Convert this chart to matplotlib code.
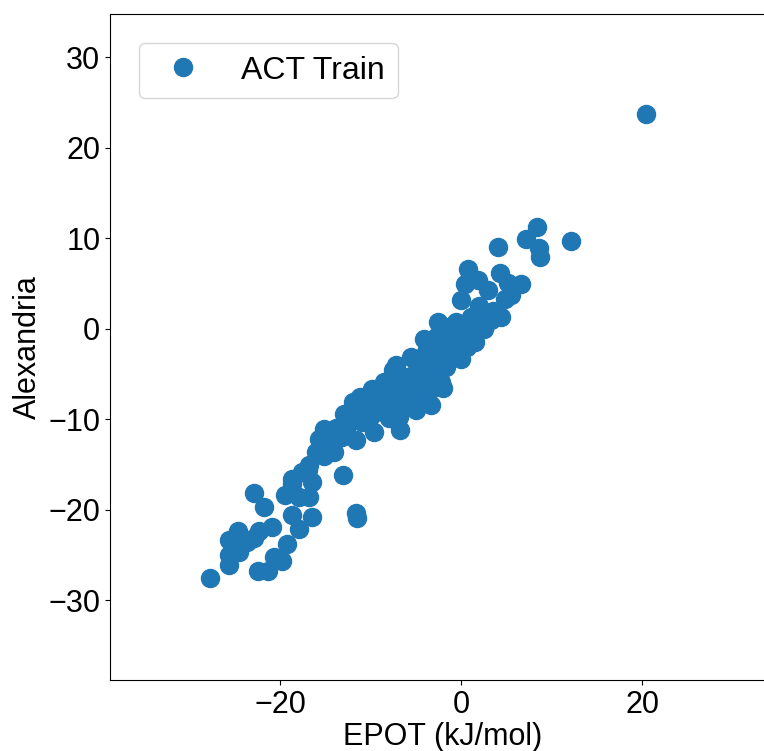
import matplotlib
matplotlib.use("Agg")
import matplotlib.pyplot as plt

plt.rcParams['font.family'] = ['Liberation Sans', 'DejaVu Sans']

# EPOT (kJ/mol) vs Alexandria
epot = [
    20.4, 8.4, 7.2, 8.6, 8.7, 12.2, 4.1, 0.8, 0.4, 1.9,
    4.3, 5.2, 6.6, 3.0, 4.8, 4.4, 0.0, 2.0, 3.5, 5.5,
    1.2, -2.5, 0.5, 2.5, 1.5,
    -1.7, -0.6, 1.1, 2.2, 3.3, 1.7, 0.6, 0.0, -1.1, -2.2,
    -3.3, -4.1, -3.3, -1.7, -4.4, -5.5, -7.2, -8.5, -6.6, -5.0,
    -3.3, -2.2, -4.4, -3.3, -6.1, -6.9, -6.8, -7.7, -9.9, -11.2,
    -11.9, -12.9, -9.6, -9.4, -11.0, -11.6, -8.8, -15.2, -15.7, -13.8,
    -13.2, -15.1, -16.8, -18.7, -13.0, -16.9, -16.5, -18.7, -19.5, -17.9,
    -16.8, -18.7, -16.5, -15.2, -14.1, -22.9, -21.8, -17.9, -19.2, -20.7,
    -19.8, -22.4, -21.3, -20.9, -22.3, -22.9, -23.7, -24.5, -24.6, -25.6,
    -25.7, -25.6, -27.7, -11.6, -11.5,
    -6.1, -5.0, -3.9, -2.8, -1.3, -0.6, 0.6, 1.1, -0.9, -2.2,
    -3.1, -4.4, -5.5, -5.3, -7.2, -8.3, -7.7, -10.5, -12.1, -10.1,
    -8.3, -14.3, -12.7, -16.0, -17.6,
    -6.5, -5.0, -8.0, -4.0, -2.0, -7.5, -9.0, -10.5,
]
alexandria = [
    23.8, 11.3, 9.9, 8.9, 7.9, 9.7, 9.1, 6.6, 5.0, 5.4,
    6.2, 5.1, 5.0, 4.3, 3.3, 1.3, 3.2, 2.5, 2.0, 3.8,
    1.0, 0.8, -0.5, 0.0, -1.5,
    -0.3, 0.8, 1.3, 0.8, 1.0, -0.3, -2.0, -3.3, -2.0, -1.4,
    -2.0, -1.1, -3.7, -4.2, -4.8, -3.1, -4.0, -5.9, -5.3, -6.4,
    -6.6, -5.9, -8.1, -8.4, -7.5, -9.7, -11.2, -8.1, -6.6, -7.5,
    -8.1, -9.4, -11.4, -9.2, -10.3, -12.3, -8.6, -11.1, -12.2, -10.9,
    -12.0, -13.6, -15.0, -16.6, -16.2, -15.6, -16.9, -17.1, -18.4, -18.6,
    -18.6, -20.6, -20.8, -14.0, -13.6, -18.1, -19.7, -22.1, -23.8, -25.2,
    -25.6, -26.7, -26.8, -21.9, -22.3, -23.1, -23.6, -24.7, -22.3, -23.3,
    -25.0, -26.1, -27.5, -20.3, -20.9,
    -5.3, -3.7, -2.5, -0.9, 0.2, -0.7, 0.2, -0.9, -3.1, -3.1,
    -5.0, -6.4, -5.9, -7.5, -7.0, -7.5, -6.4, -8.1, -9.7, -9.7,
    -9.2, -12.5, -10.9, -13.6, -15.8,
    -8.5, -9.0, -9.8, -7.5, -6.5, -4.5, -7.2, -8.8,
]


def makeGraph(x, y):
    fig = plt.figure(figsize=(7.64, 7.51), dpi=100)
    ax = fig.add_axes([110 / 764, 71 / 751, 666 / 764, 666 / 751])
    ax.plot(x, y, 'o', color='#1f77b4', markersize=13, label='ACT Train')
    ax.set_xlim(-38.8, 34.8)
    ax.set_ylim(-38.8, 34.8)
    ax.set_xticks([-20, 0, 20])
    ax.set_yticks([-30, -20, -10, 0, 10, 20, 30])
    ax.tick_params(labelsize=22)
    ax.set_xlabel('EPOT (kJ/mol)', fontsize=22, labelpad=2)
    ax.set_ylabel('Alexandria', fontsize=22)
    ax.legend(loc='upper left', fontsize=23, borderaxespad=0.9)
    fig.savefig('out.png', dpi=100)


if __name__ == '__main__':
    makeGraph(epot, alexandria)
